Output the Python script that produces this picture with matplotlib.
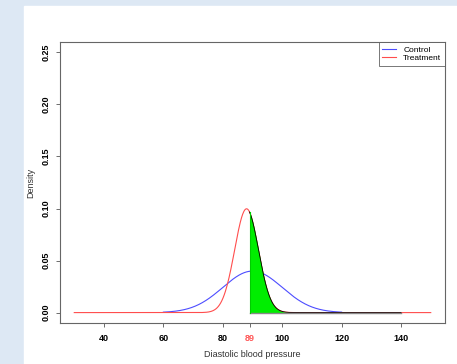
import numpy as np
import matplotlib
matplotlib.use("Agg")
import matplotlib.pyplot as plt

plt.rcParams["font.family"] = ["Liberation Sans", "DejaVu Sans"]

# distributions
groups = ["Control", "Treatment"]
means = [90, 88]
sds = [10, 4]
x_ranges = [(60, 120), (30, 150)]
line_colors = ["#4d4dff", "#ff4d4d"]
cutoff = 89
shade_end = 140
x_ticks = [40, 60, 80, 100, 120, 140]
y_ticks = [0.00, 0.05, 0.10, 0.15, 0.20, 0.25]


def dnorm(x, m, s):
    return np.exp(-0.5 * ((x - m) / s) ** 2) / (s * np.sqrt(2 * np.pi))


W, H = 457, 364
fig = plt.figure(figsize=(W / 100, H / 100), dpi=100)
fig.patch.set_facecolor("#dde8f4")
# white page panel
fig.add_artist(plt.Rectangle((24 / W, 0), 1 - 24 / W, 1 - 6 / H,
                             transform=fig.transFigure, color="white", zorder=0))

ax = fig.add_axes([60 / W, 1 - 323 / H, (445 - 60) / W, (323 - 42) / H])
ax.set_facecolor("white")

for g, m, s, (a, b), c in zip(groups, means, sds, x_ranges, line_colors):
    xs = np.linspace(a, b, 600)
    ax.plot(xs, dnorm(xs, m, s), color=c, lw=0.8, label=g)

# shaded tail of treatment beyond cutoff
xs = np.linspace(cutoff, shade_end, 600)
ys = dnorm(xs, means[1], sds[1])
ax.fill_between(xs, 0, ys, color="#00ee00", lw=0, zorder=3)
ax.plot(xs, ys, color="black", lw=0.6, zorder=4)
ax.plot([cutoff, shade_end], [0, 0], color="#888888", lw=1.0, zorder=4)
ax.plot([cutoff, cutoff], [0, dnorm(cutoff, means[1], sds[1])], color="#00cc00", lw=0.8, zorder=4)

ax.set_xlim(25.2, 154.8)
ax.set_ylim(-0.01, 0.26)

ax.set_xticks(x_ticks + [cutoff])
ax.set_xticklabels([str(t) for t in x_ticks] + [str(cutoff)], fontsize=6.5, fontweight="bold")
ax.get_xticklabels()[-1].set_color("#ff5555")
ax.get_xticklines()[-2].set_color("#66dd66")
ax.set_yticks(y_ticks)
ax.set_yticklabels([f"{t:.2f}" for t in y_ticks], fontsize=6.5, fontweight="bold",
                   rotation=90, va="center")
ax.tick_params(length=3, width=0.6, color="#555555", pad=5)
ax.tick_params(axis="y", pad=3.5)

for sp in ax.spines.values():
    sp.set_color("#666666")
    sp.set_linewidth(0.8)

ax.set_xlabel("Diastolic blood pressure", fontsize=6.5, color="#333333", labelpad=5)
ax.set_ylabel("Density", fontsize=6.5, color="#333333", labelpad=5)

leg = ax.legend(loc="upper right", fontsize=6, frameon=True, fancybox=False,
                borderaxespad=0, handlelength=1.6, handletextpad=0.9,
                borderpad=0.45, labelspacing=0.05)
leg.get_frame().set_edgecolor("#555555")
leg.get_frame().set_linewidth(0.7)

fig.savefig("out.png", dpi=100)
